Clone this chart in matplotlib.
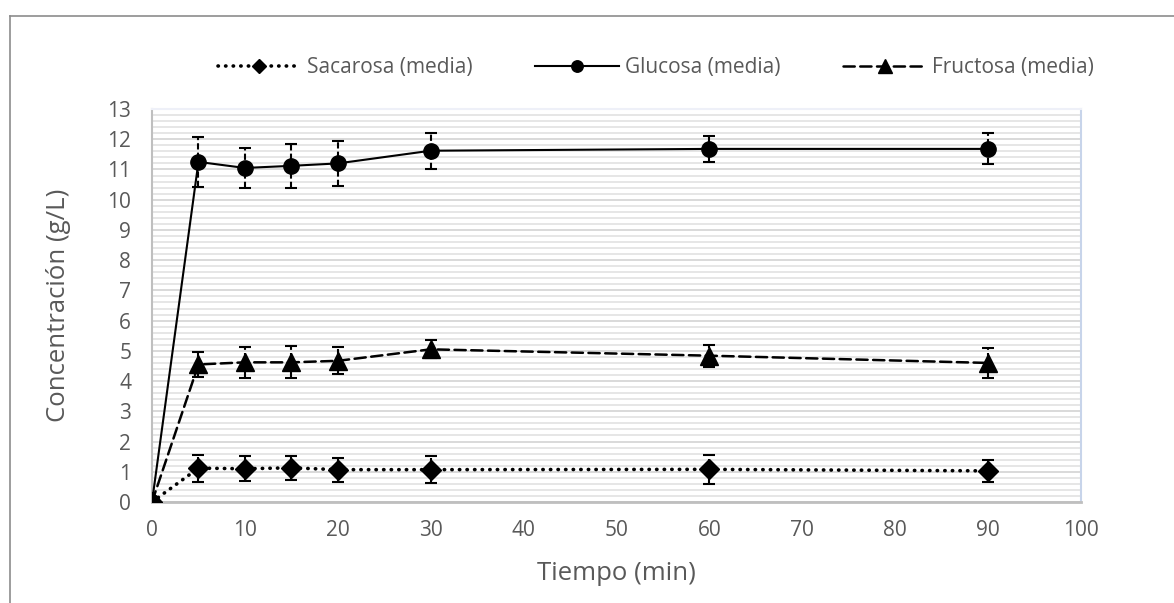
import numpy as np
import matplotlib
matplotlib.use('Agg')
from matplotlib import pyplot as plt
from matplotlib.lines import Line2D


plt.rcParams['font.family'] = ['Open Sans', 'DejaVu Sans']

# tiempo (min)
tiempo = [0, 5, 10, 15, 20, 30, 60, 90]

# medias (g/L) y barras de error
sacarosa = [0, 1.12, 1.10, 1.13, 1.07, 1.07, 1.08, 1.03]
sacarosa_err = [0, 0.45, 0.41, 0.39, 0.40, 0.44, 0.47, 0.37]

glucosa = [0, 11.25, 11.05, 11.12, 11.20, 11.62, 11.68, 11.68]
glucosa_err = [0, 0.82, 0.65, 0.73, 0.75, 0.60, 0.43, 0.51]

fructosa = [0, 4.55, 4.62, 4.62, 4.67, 5.05, 4.84, 4.60]
fructosa_err = [0, 0.41, 0.52, 0.53, 0.45, 0.30, 0.36, 0.51]

grey = '#595959'

fig = plt.figure(figsize=(11.74, 6.03), dpi=100)
ax = fig.add_axes([152 / 1174, 1 - 502 / 603, (1081 - 152) / 1174, (502 - 109) / 603])

series = [
    ('Sacarosa (media)', sacarosa, sacarosa_err, 'D', 10, (0, (0.1, 2.0)), 2.6),
    ('Glucosa (media)', glucosa, glucosa_err, 'o', 11, '-', 1.5),
    ('Fructosa (media)', fructosa, fructosa_err, '^', 13, (0, (4.5, 2.2)), 1.8),
]

handles = []
for name, y, err, mk, ms, ls, lw in series:
    line, caps, bars = ax.errorbar(tiempo, y, yerr=err, color='black', marker=mk,
                                   markersize=ms, linestyle=ls, linewidth=lw,
                                   ecolor='black', elinewidth=1.5, capsize=4,
                                   capthick=1.5, zorder=3)
    line.set_dash_capstyle('round')
    bars[0].set_linestyle((0, (3, 1.5)))
    handles.append(Line2D([], [], color='black', marker=mk, markersize=ms * 0.75,
                          linestyle=ls, linewidth=lw, dash_capstyle='round'))

ax.set_xlim(0, 100)
ax.set_ylim(0, 13)
ax.set_xticks(range(0, 101, 10))
ax.set_yticks(range(0, 14))
ax.set_yticks(np.arange(0, 13.01, 0.2), minor=True)

ax.grid(axis='y', which='major', color='#d9d9d9', linewidth=1.4, zorder=0)
ax.grid(axis='y', which='minor', color='#e4e4e4', linewidth=1.3, zorder=0)
ax.set_axisbelow(True)

ax.tick_params(axis='both', which='both', length=0, labelsize=15, labelcolor=grey)
ax.tick_params(axis='y', pad=15)
ax.tick_params(axis='x', pad=13)

ax.spines['left'].set_color('#bfbfbf')
ax.spines['left'].set_linewidth(1.5)
ax.spines['bottom'].set_color('#bfbfbf')
ax.spines['bottom'].set_linewidth(2)
ax.spines['right'].set_color('#c7d4ea')
ax.spines['right'].set_linewidth(1.5)
ax.spines['top'].set_color('#eef0f8')
ax.spines['top'].set_linewidth(1.5)

ax.set_xlabel('Tiempo (min)', fontsize=18.5, color=grey, labelpad=14)
ax.set_ylabel('Concentración (g/L)', fontsize=18.5, color=grey, labelpad=26)

fig.legend(handles, [s[0] for s in series], loc='center', bbox_to_anchor=(656 / 1174, 1 - 68 / 603),
           ncol=3, frameon=False, fontsize=15, labelcolor=grey, handlelength=4,
           columnspacing=3.0, handletextpad=0.3)

# marco exterior del grafico
fig.add_artist(Line2D([10 / 1174, 1], [1 - 16 / 603, 1 - 16 / 603], color='#8c8c8c', linewidth=1.2))
fig.add_artist(Line2D([10 / 1174, 10 / 1174], [0, 1 - 16 / 603], color='#8c8c8c', linewidth=1.2))

fig.savefig('out.png', dpi=100)
